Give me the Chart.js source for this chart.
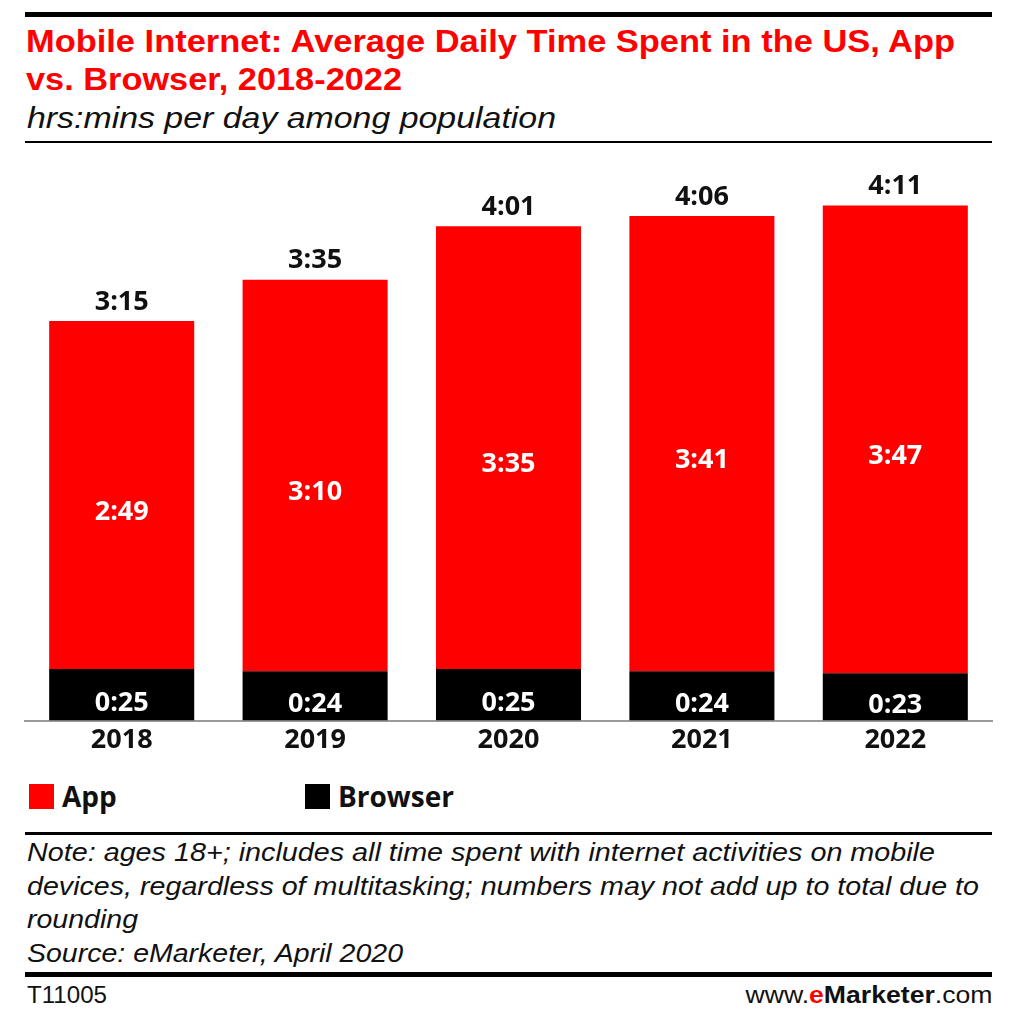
<!DOCTYPE html>
<html>
<head>
<meta charset="utf-8">
<script src="https://cdn.jsdelivr.net/npm/chart.js@4.4.1/dist/chart.umd.min.js"></script>
<style>
  html, body { margin: 0; padding: 0; background: #fff; }
  body { width: 1024px; height: 1022px; position: relative; overflow: hidden; font-family: "Liberation Sans", Arial, sans-serif; }
  .rule { position: absolute; left: 25px; width: 967px; background: #000; }
  .t { position: absolute; white-space: nowrap; display: inline-block; line-height: 1; }
  .title { left: 26px; color: #ff0000; font-weight: bold; font-size: 32px; transform-origin: 0 0; }
  .sub { left: 27px; color: #111; font-style: italic; font-size: 30px; transform-origin: 0 0; }
  .note { left: 27px; color: #111; font-style: italic; font-size: 25px; transform-origin: 0 0; }
  .foot { color: #111; font-size: 23px; }
  #chartWrap { position: absolute; left: 0; top: 150px; width: 1024px; height: 611px; }
  #legend { position: absolute; top: 780px; left: 0; width: 1024px; height: 32px; font-family: "Open Sans", sans-serif; font-weight: bold; font-size: 28px; color: #111; }
  .lg { position: absolute; top: 0; display: flex; align-items: center; height: 32px; }
  .lg span.box { display: inline-block; width: 25px; height: 25px; margin-right: 8px; }
</style>
</head>
<body>
<div class="rule" style="top:12px;height:5px;"></div>
<div class="t title" data-w="929" style="top:25px;">Mobile Internet: Average Daily Time Spent in the US, App</div>
<div class="t title" data-w="376" style="top:63px;">vs. Browser, 2018-2022</div>
<div class="t sub" data-w="529" style="top:103px;">hrs:mins per day among population</div>
<div class="rule" style="top:141px;height:2px;"></div>
<div id="chartWrap"><canvas id="c" width="1024" height="611"></canvas></div>
<div id="legend"></div>
<div class="rule" style="top:832px;height:3px;"></div>
<div class="t note" data-w="908" style="top:840px;">Note: ages 18+; includes all time spent with internet activities on mobile</div>
<div class="t note" data-w="952" style="top:874px;">devices, regardless of multitasking; numbers may not add up to total due to</div>
<div class="t note" data-w="111" style="top:907px;">rounding</div>
<div class="t note" data-w="376" style="top:941px;">Source: eMarketer, April 2020</div>
<div class="rule" style="top:972px;height:5px;"></div>
<div class="t foot" data-w="80" style="left:27px;top:984px;transform-origin:0 0;">T11005</div>
<div class="t foot" data-w="247" style="right:32px;top:984px;transform-origin:100% 0;">www.<span style="color:#ff0000;font-weight:bold;">e</span><b>Marketer</b>.com</div>
<script>
// Data (minutes per day)
const years = ['2018', '2019', '2020', '2021', '2022'];
const appMinutes = [169, 190, 215, 221, 227];
const browserMinutes = [25, 24, 25, 24, 23];
const totalMinutes = [195, 215, 241, 246, 251];
const seriesNames = ['App', 'Browser'];
const seriesColors = ['#ff0000', '#000000'];

function fmt(m) {
  const h = Math.floor(m / 60), mm = m % 60;
  return h + ':' + (mm < 10 ? '0' : '') + mm;
}

// fit text lines to the widths measured on the reference
document.querySelectorAll('[data-w]').forEach(el => {
  const w = el.getBoundingClientRect().width;
  const target = parseFloat(el.dataset.w);
  if (w > 0) el.style.transform = 'scaleX(' + (target / w) + ')';
});

const labelFont = 'bold 27px "Open Sans", sans-serif';

const labelPlugin = {
  id: 'barLabels',
  afterDatasetsDraw(chart) {
    const ctx = chart.ctx;
    const browserMeta = chart.getDatasetMeta(0);
    const appMeta = chart.getDatasetMeta(1);
    ctx.save();
    ctx.font = labelFont;
    ctx.textAlign = 'center';
    ctx.textBaseline = 'middle';
    years.forEach((_, i) => {
      const b = browserMeta.data[i];
      const a = appMeta.data[i];
      ctx.fillStyle = '#ffffff';
      ctx.fillText(fmt(browserMinutes[i]), b.x, (b.y + b.base) / 2 + 8);
      ctx.fillText(fmt(appMinutes[i]), a.x, (a.y + a.base) / 2 + 17);
      ctx.fillStyle = '#111111';
      ctx.fillText(fmt(totalMinutes[i]), a.x, a.y - 19);
    });
    ctx.restore();
  }
};

const chart = new Chart(document.getElementById('c'), {
  type: 'bar',
  data: {
    labels: years,
    datasets: [
      { label: seriesNames[1], data: browserMinutes, backgroundColor: seriesColors[1], borderWidth: 0 },
      { label: seriesNames[0], data: appMinutes, backgroundColor: seriesColors[0], borderWidth: 0 }
    ]
  },
  options: {
    responsive: false,
    animation: false,
    events: [],
    layout: { padding: { left: 25, right: 32, top: 0, bottom: 0 } },
    datasets: { bar: { barPercentage: 0.75, categoryPercentage: 1.0 } },
    plugins: { legend: { display: false }, tooltip: { enabled: false } },
    scales: {
      x: {
        stacked: true,
        grid: { display: false, drawTicks: false },
        border: { display: true, color: '#9a9a9a', width: 2 },
        ticks: { color: '#111', font: { family: '"Open Sans", sans-serif', weight: 'bold', size: 27 }, padding: 4 }
      },
      y: { stacked: true, display: false, min: 0, max: 277 }
    }
  },
  plugins: [labelPlugin]
});

// HTML legend built from the series
const legend = document.getElementById('legend');
const legendLeft = [29, 305];
seriesNames.forEach((name, i) => {
  const item = document.createElement('div');
  item.className = 'lg';
  item.style.left = legendLeft[i] + 'px';
  const box = document.createElement('span');
  box.className = 'box';
  box.style.background = seriesColors[i];
  item.appendChild(box);
  item.appendChild(document.createTextNode(name));
  legend.appendChild(item);
});
</script>
</body>
</html>
